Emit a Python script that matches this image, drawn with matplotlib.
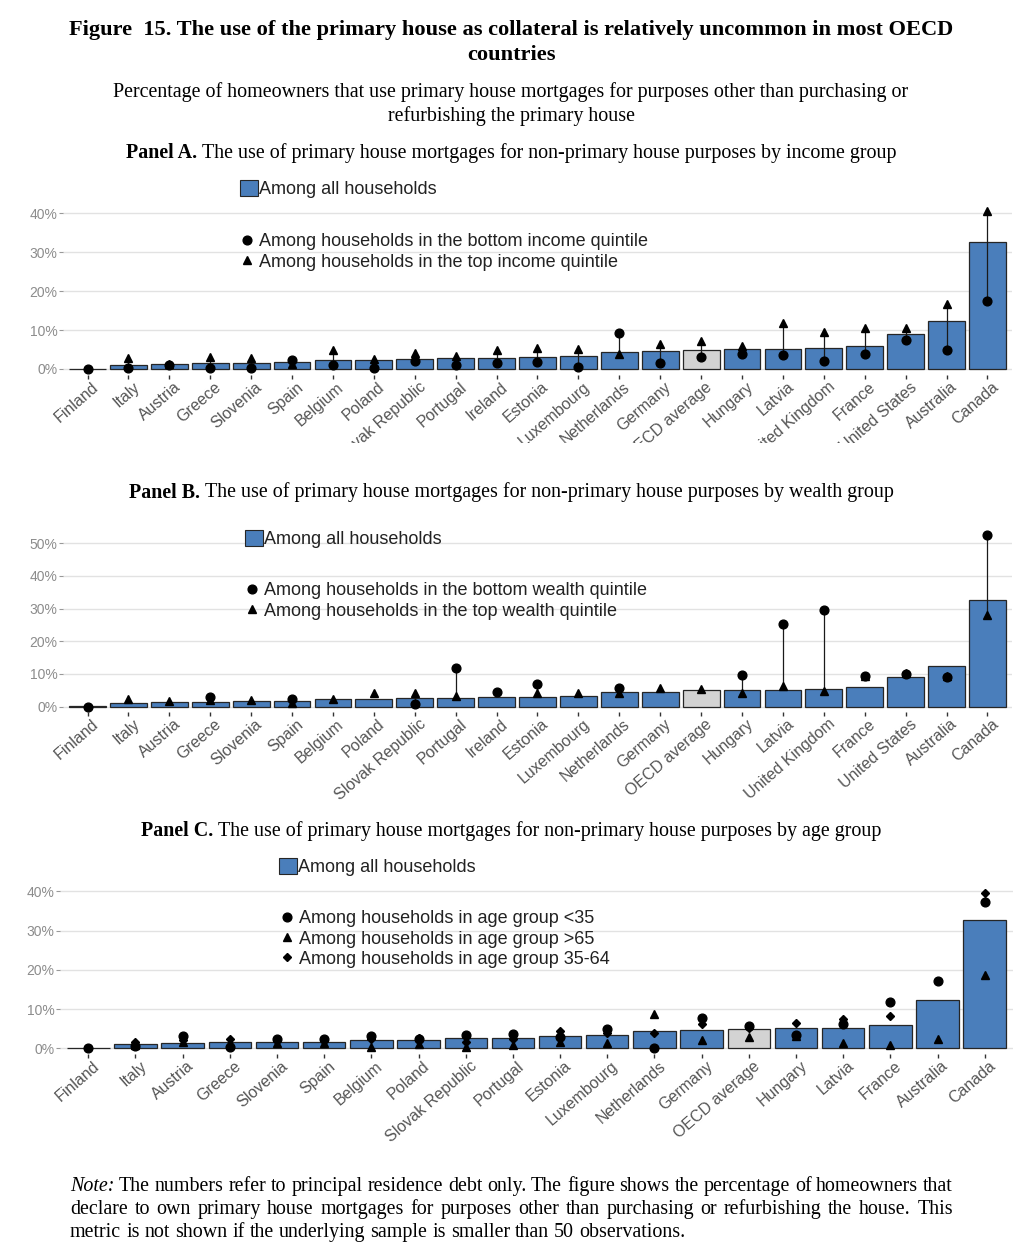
import numpy as np
import matplotlib
matplotlib.use("Agg")
from matplotlib import pyplot as plt
from matplotlib.patches import Patch
from matplotlib.lines import Line2D
from matplotlib.transforms import Bbox, TransformedBbox, ScaledTranslation

nan = np.nan

# panels A and B share the country order and the "all households" bars
countries_ab = ["Finland", "Italy", "Austria", "Greece", "Slovenia", "Spain", "Belgium", "Poland",
                "Slovak Republic", "Portugal", "Ireland", "Estonia", "Luxembourg", "Netherlands",
                "Germany", "OECD average", "Hungary", "Latvia", "United Kingdom", "France",
                "United States", "Australia", "Canada"]
all_households_ab = [0.1, 1.1, 1.4, 1.5, 1.6, 1.7, 2.2, 2.2, 2.6, 2.7, 2.9, 3.1, 3.3, 4.4,
                     4.6, 5.0, 5.2, 5.2, 5.3, 6.0, 9.0, 12.3, 32.6]
income_bottom = [0.0, 0.2, 0.9, 0.2, 0.2, 2.2, 0.9, 0.3, 2.0, 0.9, 1.5, 1.8, 0.5, 9.3,
                 1.6, 3.0, 3.8, 3.6, 2.1, 3.8, 7.4, 4.9, 17.4]
income_top = [nan, 2.9, 1.3, 3.2, 2.7, 1.4, 4.9, 2.6, 4.0, 3.4, 5.0, 5.3, 5.1, 3.8,
              6.4, 7.1, 6.0, 11.8, 9.5, 10.6, 10.5, 16.7, 40.6]
wealth_bottom = [0.0, nan, nan, 3.1, nan, 2.5, nan, nan, 0.8, 11.7, 4.6, 6.8, nan, 5.7,
                 nan, nan, 9.8, 25.3, 29.4, 9.4, 9.9, 9.2, 52.5]
wealth_top = [nan, 2.3, 1.7, 2.0, 1.9, 1.2, 2.5, 4.1, 4.1, 3.4, nan, 4.1, 4.3, 4.1,
              5.7, 5.4, 4.3, 6.3, 4.8, 9.5, 10.4, 9.5, 28.0]

# panel C
countries_c = ["Finland", "Italy", "Austria", "Greece", "Slovenia", "Spain", "Belgium", "Poland",
               "Slovak Republic", "Portugal", "Estonia", "Luxembourg", "Netherlands", "Germany",
               "OECD average", "Hungary", "Latvia", "France", "Australia", "Canada"]
all_households_c = [0.1, 1.1, 1.4, 1.5, 1.6, 1.7, 2.2, 2.2, 2.6, 2.7, 3.1, 3.3, 4.4, 4.6,
                    5.0, 5.2, 5.2, 6.0, 12.3, 32.6]
age_under35 = [0.0, 0.6, 3.2, 0.3, 2.3, 2.3, 3.1, 2.4, 3.3, 3.6, 2.9, 4.9, 0.0, 7.8,
               5.6, 3.4, 6.1, 11.9, 17.2, 37.4]
age_over65 = [nan, 0.9, 1.5, 1.4, 1.3, 1.3, 0.4, 1.1, 0.4, 0.8, 1.6, 1.3, 8.7, 2.0,
              2.9, 3.2, 1.4, 0.8, 2.5, 18.7]
age_35_64 = [0.0, 1.6, 2.0, 2.3, 2.0, 2.0, 2.5, 2.6, 1.7, 2.5, 4.5, 4.0, 3.8, 6.2,
             5.2, 6.4, 7.4, 8.3, nan, 39.5]

W, H = 1029, 1249
plt.rcParams["font.family"] = ["Liberation Sans", "DejaVu Sans"]
SERIF = ["Liberation Serif", "DejaVu Serif"]
BLUE = "#4a7ebb"
OECD_GREY = "#d3d3d3"
EDGE = "#262626"

fig = plt.figure(figsize=(W / 100, H / 100), dpi=100)
renderer = fig.canvas.get_renderer()


def fy(y):  # pixel row counted from the top -> figure fraction
    return 1 - y / H


def panel(left, top, right, bottom, countries, values, ylim, yticks, clip_y):
    ax = fig.add_axes([left / W, fy(bottom), (right - left) / W, (bottom - top) / H])
    x = np.arange(len(countries))
    colors = [OECD_GREY if c == "OECD average" else BLUE for c in countries]
    ax.bar(x, values, width=0.9, color=colors, edgecolor=EDGE, linewidth=0.9, zorder=2)
    ax.set_xlim(-0.6, len(countries) - 0.4)
    ax.set_ylim(*ylim)
    ax.set_yticks(yticks)
    ax.set_yticklabels([f"{t}%" for t in yticks])
    ax.set_xticks(x)
    ax.set_xticklabels(countries, rotation=41, ha="right", va="top", rotation_mode="anchor")
    ax.yaxis.grid(True, color="#e2e2e2", linewidth=1.0)
    ax.set_axisbelow(True)
    for s in ax.spines.values():
        s.set_visible(False)
    ax.tick_params(axis="y", length=3, width=0.8, color="#999999", labelcolor="#8c8c8c",
                   labelsize=10, pad=1)
    ax.tick_params(axis="x", length=3, width=1.0, color="#333333", labelcolor="#555555",
                   labelsize=11.5, pad=3)
    # the labels are cut off at the bottom of each panel, like in the source image
    clip = TransformedBbox(Bbox([[0, fy(clip_y)], [1, 1]]), fig.transFigure)
    shift = ScaledTranslation(4 / 100, 4 / 100, fig.dpi_scale_trans)
    for lab in ax.get_xticklabels():
        lab.set_transform(lab.get_transform() + shift)
        lab.set_clip_box(clip)
        lab.set_clip_on(True)
    return ax, x


def ranges(ax, x, lo, hi):
    lo = np.asarray(lo, float)
    hi = np.asarray(hi, float)
    ok = ~(np.isnan(lo) | np.isnan(hi))
    ax.vlines(x[ok], lo[ok], hi[ok], color="#1a1a1a", linewidth=0.9, zorder=3)


def dots(ax, x, vals, marker, ms):
    ax.plot(x, vals, linestyle="none", marker=marker, ms=ms, color="black", zorder=4)


def legends(ax, x_box, y_box, x_pts, y_pts, labels, markers, sizes):
    bar_leg = ax.legend(handles=[Patch(facecolor=BLUE, edgecolor=EDGE, linewidth=0.8,
                                       label="Among all households")],
                        loc="center left", bbox_to_anchor=(x_box / W, fy(y_box)),
                        bbox_transform=fig.transFigure, frameon=False, fontsize=13,
                        labelcolor="#222222", handlelength=1.0, handleheight=1.0,
                        handletextpad=0.05, borderpad=0, borderaxespad=0)
    ax.add_artist(bar_leg)
    handles = [Line2D([], [], linestyle="none", marker=m, ms=s, color="black", label=l)
               for l, m, s in zip(labels, markers, sizes)]
    ax.legend(handles=handles, loc="center left", bbox_to_anchor=(x_pts / W, fy(y_pts)),
              bbox_transform=fig.transFigure, frameon=False, fontsize=13, labelcolor="#222222",
              handlelength=0.6, handletextpad=0.37, labelspacing=0.17, borderpad=0,
              borderaxespad=0)


def centred(y, parts, fs, target=None, cx=511):
    ts = [fig.text(0, fy(y), s, fontsize=fs, family=SERIF, weight=wt, style=st,
                   va="center_baseline") for s, wt, st in parts]
    if target:
        total = sum(t.get_window_extent(renderer).width for t in ts)
        total += fs * 0.25 * 100 / 72 * (len(ts) - 1)
        fs = fs * target / total
        for t in ts:
            t.set_fontsize(fs)
    gap = fs * 0.25 * 100 / 72
    widths = [t.get_window_extent(renderer).width for t in ts]
    x = cx - (sum(widths) + gap * (len(ts) - 1)) / 2
    for t, w in zip(ts, widths):
        t.set_x(x / W)
        x += w + gap
    return fs


def note_line(y, words, fs, justify=True, x0=70, x1=953):
    ts = [fig.text(0, fy(y), w, fontsize=fs, family=SERIF, style=st, va="center_baseline")
          for w, st in words]
    widths = [t.get_window_extent(renderer).width for t in ts]
    if justify:
        gap = (x1 - x0 - sum(widths)) / (len(ts) - 1)
    else:
        gap = fs * 0.25 * 100 / 72
    x = x0
    for t, w in zip(ts, widths):
        t.set_x(x / W)
        x += w + gap


# headings
fs_title = centred(28, [("Figure  15. The use of the primary house as collateral is relatively "
                         "uncommon in most OECD", "bold", "normal")], 15, target=882)
centred(52, [("countries", "bold", "normal")], fs_title)
fs_sub = centred(90, [("Percentage of homeowners that use primary house mortgages for purposes "
                       "other than purchasing or", "normal", "normal")], 14, target=801)
centred(114, [("refurbishing the primary house", "normal", "normal")], fs_sub)
centred(151, [("Panel A.", "bold", "normal"),
              ("The use of primary house mortgages for non-primary house purposes by income group",
               "normal", "normal")], fs_sub)
centred(490, [("Panel B.", "bold", "normal"),
              ("The use of primary house mortgages for non-primary house purposes by wealth group",
               "normal", "normal")], fs_sub)
centred(829, [("Panel C.", "bold", "normal"),
              ("The use of primary house mortgages for non-primary house purposes by age group",
               "normal", "normal")], fs_sub)

# Panel A
ax_a, xa = panel(63, 178, 1012, 375, countries_ab, all_households_ab, (-1.54, 49.0),
                 [0, 10, 20, 30, 40], 443)
ranges(ax_a, xa, income_bottom, income_top)
dots(ax_a, xa, income_bottom, "o", 6.3)
dots(ax_a, xa, income_top, "^", 6.3)
legends(ax_a, 240, 189, 241.6, 252,
        ["Among households in the bottom income quintile",
         "Among households in the top income quintile"], ["o", "^"], [6.3, 6.3])

# Panel B
ax_b, xb = panel(63, 528, 1012, 712, countries_ab, all_households_ab, (-1.62, 54.6),
                 [0, 10, 20, 30, 40, 50], 812)
ranges(ax_b, xb, wealth_bottom, wealth_top)
dots(ax_b, xb, wealth_bottom, "o", 6.3)
dots(ax_b, xb, wealth_top, "^", 6.3)
legends(ax_b, 245, 539, 246.6, 601,
        ["Among households in the bottom wealth quintile",
         "Among households in the top wealth quintile"], ["o", "^"], [6.3, 6.3])

# Panel C
ax_c, xc = panel(60, 858, 1013, 1054, countries_c, all_households_c, (-1.45, 48.5),
                 [0, 10, 20, 30, 40], 1142)
dots(ax_c, xc, age_35_64, "D", 3.6)
dots(ax_c, xc, age_over65, "^", 6.3)
dots(ax_c, xc, age_under35, "o", 6.3)
legends(ax_c, 279, 867, 281.6, 939,
        ["Among households in age group <35", "Among households in age group >65",
         "Among households in age group 35-64"], ["o", "^", "D"], [6.3, 6.3, 3.6])

# note under the chart
line1 = [("Note:", "italic")] + [(w, "normal") for w in
        "The numbers refer to principal residence debt only. The figure shows the percentage "
        "of homeowners that".split()]
line2 = [(w, "normal") for w in
         "declare to own primary house mortgages for purposes other than purchasing or "
         "refurbishing the house. This".split()]
line3 = [(w, "normal") for w in
         "metric is not shown if the underlying sample is smaller than 50 observations.".split()]
note_line(1184, line1, fs_sub)
note_line(1207, line2, fs_sub)
note_line(1230, line3, fs_sub, justify=False)

fig.savefig("out.png", dpi=100)
